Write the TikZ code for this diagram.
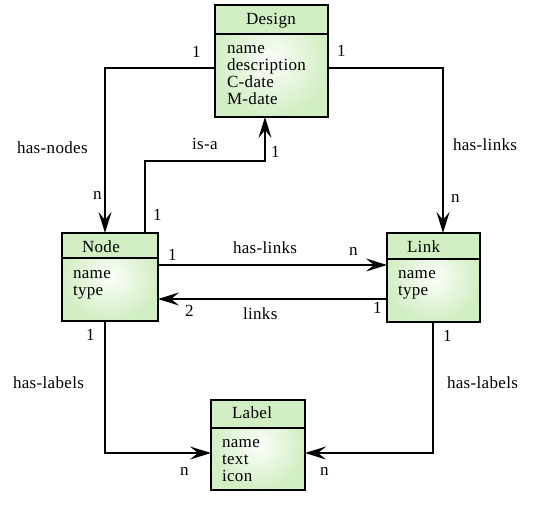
\documentclass[tikz,border=0pt]{standalone}
\usepackage{fontspec}
\setmainfont{Liberation Serif}[LetterSpace=2]
\usetikzlibrary{arrows.meta}

\definecolor{entgreen}{RGB}{210,238,195}
\definecolor{entlight}{RGB}{252,254,250}

\tikzset{
  ebody/.style={inner sep=0pt, outer sep=0pt, shading=radial,
    inner color=entlight, outer color=entgreen},
  ehead/.style={fill=entgreen},
  ediv/.style={line width=1.6pt},
  eframe/.style={line width=2.6pt},
  txt/.style={anchor=base west, inner sep=0pt, outer sep=0pt},
  conn/.style={line width=1.7pt,
    -{Stealth[length=21pt,width=13pt,inset=8pt]}},
}

% entity box: name, left, top, right, header divider, bottom
\newcommand\erentity[6]{%
  \node[ebody, anchor=north west,
        minimum width={(#4-#2)*1pt}, minimum height={(#6-#3)*1pt}] (#1) at (#2,#3) {};
  \fill[ehead] (#2,#3) rectangle (#4,#5);
  \draw[ediv] (#2,#5) -- (#4,#5);
  \draw[eframe] (#1.north west) rectangle (#1.south east);
}

\begin{document}
\begin{tikzpicture}[x=1pt, y=-1pt, font=\fontsize{17}{18}\selectfont]
\useasboundingbox (0,0) rectangle (535,505);

% entities
\erentity{design}{215}{5}{328}{34}{117}
\erentity{node}{62}{233}{158}{258}{321}
\erentity{link}{387}{233}{480}{259}{322}
\erentity{label}{211}{400}{305}{428}{490}

% entity titles
\node[txt] (tdesign) at (246,25) {Design};
\node[txt] (tnode) at (82,252) {Node};
\node[txt] (tlink) at (407,252) {Link};
\node[txt] (tlabel) at (232,418) {Label};

% attributes
\node[txt] (d1) at (227,54) {name};
\node[txt] (d2) at (227,71) {description};
\node[txt] (d3) at (227,88) {C-date};
\node[txt] (d4) at (227,105) {M-date};

\node[txt] (n1) at (73,278) {name};
\node[txt] (n2) at (73,295) {type};

\node[txt] (l1) at (398,278) {name};
\node[txt] (l2) at (398,295) {type};

\node[txt] (b1) at (222,447) {name};
\node[txt] (b2) at (222,464) {text};
\node[txt] (b3) at (222,481) {icon};

% relationships
\draw[conn] ([yshift=-7pt]design.west) -| ([xshift=-5pt]node.north);
\draw[conn] ([yshift=-7pt]design.east) -| ([xshift=9.5pt]link.north);
\draw[conn] ([xshift=35pt]node.north) -- ++(0,-72) -| ([xshift=-6.5pt]design.south);

\coordinate (hl) at ([yshift=12pt]node.east);
\draw[conn] (hl) -- (hl -| link.west);
\coordinate (lk) at ([yshift=-21.5pt]link.west);
\draw[conn] (lk) -- (lk -| node.east);

\draw[conn] ([xshift=-5pt]node.south) |- ([yshift=-8pt]label.west);
\draw[conn] ([xshift=-0.5pt]link.south) |- ([yshift=-8pt]label.east);

% relationship names and cardinalities
\node[txt] (c1) at (192,58) {1};
\node[txt] (r1) at (17,154) {has-nodes};
\node[txt] (c2) at (93,200) {n};

\node[txt] (c3) at (337,57) {1};
\node[txt] (r2) at (453,151) {has-links};
\node[txt] (c4) at (451,202) {n};

\node[txt] (r3) at (192,150) {is-a};
\node[txt] (c5) at (271,158) {1};
\node[txt] (c6) at (153,220) {1};

\node[txt] (c7) at (168,260) {1};
\node[txt] (r4) at (233,253) {has-links};
\node[txt] (c8) at (349,255) {n};

\node[txt] (c9) at (185,316) {2};
\node[txt] (r5) at (243,319) {links};
\node[txt] (c10) at (373,313) {1};

\node[txt] (c11) at (86,340) {1};
\node[txt] (r6) at (13,388) {has-labels};
\node[txt] (c12) at (180,475) {n};

\node[txt] (c13) at (443,341) {1};
\node[txt] (r7) at (447,388) {has-labels};
\node[txt] (c14) at (320,475) {n};
\end{tikzpicture}
\end{document}
